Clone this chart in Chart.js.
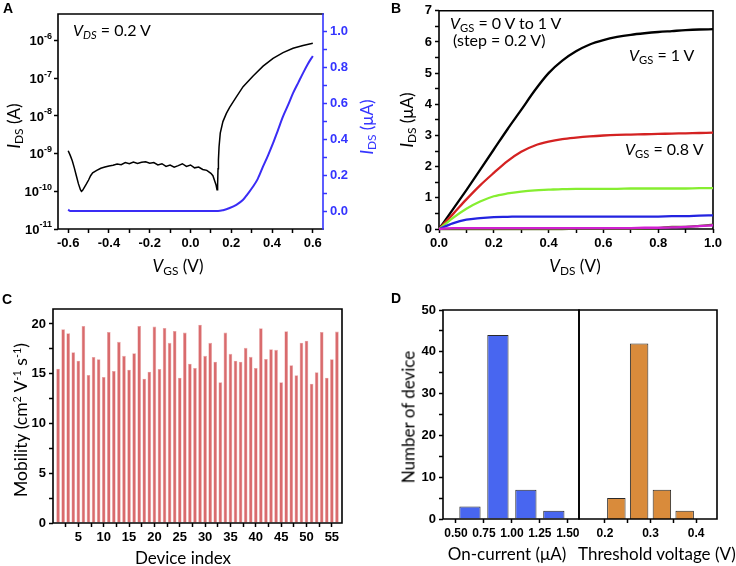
<!DOCTYPE html>
<html><head><meta charset="utf-8">
<script src="https://cdn.jsdelivr.net/npm/chart.js@4/dist/chart.umd.min.js"></script>
<style>
body{margin:0;background:#fff;width:736px;height:566px;position:relative;overflow:hidden;font-family:Lato,'Open Sans',sans-serif;color:#000;}
canvas{position:absolute;}
.t{position:absolute;white-space:nowrap;line-height:1;transform:translate(-50%,-50%);font-size:17px;}
.r{transform:translate(-50%,-50%) rotate(-90deg);}
.l{position:absolute;white-space:nowrap;line-height:1;transform:translateY(-50%);font-size:16px;}
.p{position:absolute;font:bold 14px 'Liberation Sans',Arial,sans-serif;transform:translate(-50%,-50%);}
sub{font-size:70%;vertical-align:-0.3em;line-height:0;}
sup{font-size:62%;vertical-align:0.6em;line-height:0;}
</style></head><body>
<canvas id="cA" width="368" height="283" style="left:0;top:0"></canvas>
<canvas id="cB" width="368" height="283" style="left:368px;top:0"></canvas>
<canvas id="cC" width="368" height="283" style="left:0;top:283px"></canvas>
<canvas id="cD1" width="240" height="283" style="left:368px;top:283px"></canvas>
<canvas id="cD2" width="188" height="283" style="left:548px;top:283px"></canvas>

<div class="p" style="left:8px;top:8px">A</div>
<div class="p" style="left:396px;top:8px">B</div>
<div class="p" style="left:7px;top:299px">C</div>
<div class="p" style="left:396px;top:298px">D</div>

<div class="t r" style="left:13px;top:126px"><i>I</i><sub>DS</sub> (A)</div>
<div class="t r" style="left:366px;top:127px;color:#3535ff"><i>I</i><sub>DS</sub> (μA)</div>
<div class="t" style="left:178px;top:265px"><i>V</i><sub>GS</sub> (V)</div>
<div class="l" style="left:73px;top:30px"><i>V<sub>DS</sub></i> = 0.2 V</div>

<div class="t r" style="left:406px;top:120px"><i>I</i><sub>DS</sub> (μA)</div>
<div class="t" style="left:575px;top:265px"><i>V</i><sub>DS</sub> (V)</div>
<div class="l" style="left:450px;top:23px"><i>V</i><sub>GS</sub> = 0 V to 1 V</div>
<div class="l" style="left:453px;top:40px">(step = 0.2 V)</div>
<div class="l" style="left:629px;top:55px"><i>V</i><sub>GS</sub> = 1 V</div>
<div class="l" style="left:625px;top:149px"><i>V</i><sub>GS</sub> = 0.8 V</div>

<div class="t r" style="left:21px;top:420px;font-size:17.5px">Mobility (cm<sup>2</sup> V<sup>-1</sup> s<sup>-1</sup>)</div>
<div class="t" style="left:183px;top:557px">Device index</div>

<div class="t r" style="left:408px;top:417px">Number of device</div>
<div class="t" style="left:507px;top:553px">On-current (μA)</div>
<div class="l" style="left:578px;top:553px;font-size:17px">Threshold voltage (V)</div>

<script>
// ---------- Panel A data ----------
const aBlackV = [-0.600,-0.590,-0.580,-0.570,-0.560,-0.550,-0.540,-0.535,-0.530,-0.520,-0.510,-0.500,-0.490,-0.480,-0.460,-0.440,-0.420,-0.400,-0.380,-0.360,-0.340,-0.320,-0.300,-0.280,-0.260,-0.240,-0.220,-0.200,-0.180,-0.160,-0.140,-0.120,-0.100,-0.080,-0.060,-0.040,-0.020,0.000,0.020,0.040,0.060,0.080,0.100,0.110,0.120,0.125,0.130,0.133,0.135,0.137,0.140,0.146,0.159,0.176,0.192,0.225,0.258,0.307,0.356,0.405,0.454,0.503,0.552,0.600];
const aBlackI = [1.2e-9,9.0e-10,6.5e-10,4.2e-10,2.6e-10,1.6e-10,1.1e-10,1.0e-10,1.05e-10,1.3e-10,1.6e-10,2.0e-10,2.6e-10,3.1e-10,3.6e-10,4.1e-10,4.4e-10,4.7e-10,4.9e-10,5.3e-10,5.1e-10,5.8e-10,5.4e-10,6.0e-10,5.5e-10,5.9e-10,6.1e-10,5.6e-10,5.8e-10,5.0e-10,5.4e-10,4.6e-10,5.0e-10,4.4e-10,4.8e-10,5.4e-10,4.6e-10,5.0e-10,4.2e-10,4.4e-10,3.8e-10,3.6e-10,3.0e-10,2.6e-10,1.8e-10,1.5e-10,1.1e-10,1.5e-10,4.0e-10,6.8e-10,1.5e-9,3.5e-9,7.1e-9,1.17e-8,1.7e-8,3.2e-8,6.0e-8,1.15e-7,2.1e-7,3.4e-7,4.8e-7,6.3e-7,7.4e-7,8.5e-7];
const aBlueV = [-0.600,-0.590,0.135,0.160,0.192,0.225,0.258,0.280,0.307,0.330,0.356,0.380,0.405,0.430,0.454,0.480,0.503,0.530,0.552,0.575,0.600];
const aBlueI = [0.008,0.0,0.0,0.005,0.017,0.035,0.063,0.095,0.137,0.180,0.249,0.310,0.379,0.455,0.528,0.595,0.658,0.720,0.770,0.820,0.866];
const aXTicks = [-0.6,-0.4,-0.2,0.0,0.2,0.4,0.6];
const aLogTicks = [1e-11,1e-10,1e-9,1e-8,1e-7,1e-6];
const aRightTicks = [0.0,0.2,0.4,0.6,0.8,1.0];

// ---------- Panel B data ----------
const bVds   = [0,0.05,0.10,0.15,0.20,0.25,0.30,0.35,0.40,0.45,0.50,0.55,0.60,0.65,0.70,0.75,0.80,0.85,0.90,0.95,1.00];
const bVgs10 = [0,0.62,1.25,1.90,2.55,3.20,3.82,4.45,5.00,5.40,5.70,5.92,6.06,6.16,6.23,6.28,6.32,6.35,6.38,6.40,6.41];
const bVgs08 = [0,0.47,0.95,1.40,1.80,2.18,2.48,2.68,2.80,2.88,2.93,2.97,3.00,3.02,3.03,3.04,3.05,3.06,3.07,3.08,3.09];
const bVgs06 = [0,0.35,0.65,0.88,1.05,1.14,1.20,1.24,1.26,1.28,1.29,1.29,1.29,1.29,1.30,1.30,1.30,1.30,1.30,1.31,1.31];
const bVgs04 = [0,0.18,0.30,0.35,0.38,0.39,0.40,0.40,0.40,0.40,0.40,0.40,0.40,0.40,0.40,0.40,0.40,0.41,0.41,0.43,0.44];
const bVgs02 = [0,0.03,0.03,0.03,0.03,0.03,0.03,0.03,0.03,0.03,0.03,0.03,0.03,0.03,0.03,0.04,0.04,0.05,0.07,0.09,0.12];
const bVgs00 = [0,0.00,0.00,0.00,0.00,0.00,0.00,0.00,0.00,0.00,0.01,0.01,0.01,0.01,0.01,0.02,0.03,0.07,0.07,0.10,0.14];
const bXTicks = [0.0,0.2,0.4,0.6,0.8,1.0];
const bYTicks = [0,1,2,3,4,5,6,7];

// ---------- Panel C data ----------
const cDevice = [1,2,3,4,5,6,7,8,9,10,11,12,13,14,15,16,17,18,19,20,21,22,23,24,25,26,27,28,29,30,31,32,33,34,35,36,37,38,39,40,41,42,43,44,45,46,47,48,49,50,51,52,53,54,55,56];
const cMobility = [15.5,19.46,19.06,17.15,16.3,19.8,14.87,16.68,16.45,14.67,19.2,15.28,18.2,16.8,15.4,17.05,19.8,14.5,15.2,19.73,15.48,19.6,18.1,19.3,14.6,19.13,16.0,15.58,19.93,16.8,18.1,16.2,14.13,19.13,17.0,16.3,16.2,17.6,16.7,15.58,19.56,16.48,17.45,17.4,14.13,19.26,15.85,14.84,18.12,18.32,14.0,15.14,19.2,14.6,16.45,19.23];
const cXTicks = [5,10,15,20,25,30,35,40,45,50,55];
const cYTicks = [0,5,10,15,20];

// ---------- Panel D data ----------
const dOnCurrent = [0.625,0.875,1.125,1.375];
const dOnCount   = [3,44,7,2];
const dVth       = [0.225,0.275,0.325,0.375];
const dVthCount  = [5,42,7,2];
const dOnTicks   = [0.50,0.75,1.00,1.25,1.50];
const dVthTicks  = [0.2,0.3,0.4];
const dYTicks    = [0,10,20,30,40,50];

// ---------- helpers ----------
const FAM = "'Liberation Sans', Arial, sans-serif";
const FONT = {family:FAM, weight:'bold', size:13};
function rng(a,b,s){const r=[];for(let i=0;a+i*s<=b+1e-9;i++)r.push(+(a+i*s).toFixed(6));return r;}
function setTicks(vals){return s=>{s.ticks=vals.map(v=>({value:v}));};}
function lab(major,fmt){return v=>major.some(m=>Math.abs(m-v)<1e-9)?fmt(v):'';}
function pts(xs,ys){return xs.map((x,i)=>({x:x,y:ys[i]}));}
function axis(o){
  const col=o.color||'#000';
  return Object.assign({
    type:'linear', offset:false,
    border:{display:false},
    grid:{display:true,drawOnChartArea:false,drawTicks:true,tickLength:4,tickWidth:1.5,tickColor:col,offset:false},
    ticks:{autoSkip:false,maxRotation:0,minRotation:0,padding:3,color:col,font:o.font||FONT,callback:o.cb},
    afterBuildTicks:setTicks(o.ticks),
    afterFit:s=>{ if(o.w!==undefined) s.width=o.w; if(o.h!==undefined) s.height=o.h; }
  }, o.extra||{});
}
function drawFrame(chart,opts){
  const c=chart.ctx,a=chart.chartArea;c.save();c.lineWidth=1.6;c.lineCap='square';
  c.strokeStyle='#000';c.beginPath();
  c.moveTo(a.right,a.bottom);c.lineTo(a.left,a.bottom);c.lineTo(a.left,a.top);c.lineTo(a.right,a.top);
  if(!opts.rightColor){c.lineTo(a.right,a.bottom);}
  c.stroke();
  if(opts.rightColor){c.strokeStyle=opts.rightColor;c.beginPath();c.moveTo(a.right,a.top);c.lineTo(a.right,a.bottom);c.stroke();}
  c.restore();
}
const framePlugin={id:'frame',
  beforeDatasetsDraw(chart,args,opts){ if(opts.under) drawFrame(chart,opts); },
  afterDraw(chart,args,opts){ if(!opts.under) drawFrame(chart,opts); }};
// power-of-ten labels "10" with a raised exponent, placed at the log scale's own tick pixels
const logLabelPlugin={id:'logLabels',afterDraw(chart){
  const s=chart.scales.y,c=chart.ctx;c.save();c.fillStyle='#000';c.textBaseline='middle';c.textAlign='left';
  s.ticks.forEach(t=>{
    const e=Math.round(Math.log10(t.value));if(Math.abs(Math.log10(t.value)-e)>1e-6)return;
    const y=s.getPixelForValue(t.value),es=String(e);
    c.font="bold 9px "+FAM;const we=c.measureText(es).width;
    c.font="bold 13px "+FAM;const wb=c.measureText('10').width;
    const xr=chart.chartArea.left-6;
    c.fillText('10',xr-we-wb,y+1);
    c.font="bold 9px "+FAM;c.fillText(es,xr-we,y-4);
  });c.restore();}};
const base={responsive:false,animation:false,devicePixelRatio:1,events:[],
  plugins:{legend:{display:false},tooltip:{enabled:false}}};

// ---------- Panel A ----------
new Chart(document.getElementById('cA'),{
  type:'line',
  data:{datasets:[
    {data:pts(aBlackV,aBlackI),yAxisID:'y',borderColor:'#000',borderWidth:1.5,pointRadius:0,tension:0},
    {data:pts(aBlueV,aBlueI),yAxisID:'y1',borderColor:'#3a2cf5',borderWidth:2,pointRadius:0,cubicInterpolationMode:'monotone'}
  ]},
  options:Object.assign({},base,{
    layout:{padding:{left:0,right:0,top:14,bottom:0}},
    plugins:Object.assign({},base.plugins,{frame:{rightColor:'#3535ff'}}),
    scales:{
      x:axis({ticks:rng(-0.6,0.6,0.1),cb:lab(aXTicks,v=>v.toFixed(1)),h:54,extra:{min:-0.65,max:0.65}}),
      y:axis({ticks:aLogTicks,cb:()=>'',w:58,extra:{type:'logarithmic',min:1e-11,max:5.1e-6,position:'left'}}),
      y1:axis({ticks:rng(-0.1,1.1,0.1).filter(v=>v>-0.05&&v<1.05),cb:lab(aRightTicks,v=>v.toFixed(1)),w:45,color:'#3535ff',extra:{min:-0.1,max:1.1,position:'right'}})
    }
  }),
  plugins:[framePlugin,logLabelPlugin]
});

// ---------- Panel B ----------
// Chart.js paints dataset 0 last (on top), so the 0.2 V trace comes first and the 0 V trace last
const bCol=[['#d020d0',bVgs02],['#2323e0',bVgs04],['#86ee30',bVgs06],['#d42222',bVgs08],['#000000',bVgs10],['#5a6e1e',bVgs00]];
new Chart(document.getElementById('cB'),{
  type:'line',
  data:{datasets:bCol.map(([c,v])=>({data:pts(bVds,v),borderColor:c,borderWidth:2.3,pointRadius:0,clip:3,cubicInterpolationMode:'monotone'}))},
  options:Object.assign({},base,{
    layout:{padding:{left:0,right:23,top:10,bottom:0}},
    plugins:Object.assign({},base.plugins,{frame:{under:true}}),
    scales:{
      x:axis({ticks:rng(0,1,0.1),cb:lab(bXTicks,v=>v.toFixed(1)),h:54,extra:{min:0,max:1}}),
      y:axis({ticks:rng(0,7,0.5),cb:lab(bYTicks,v=>String(v)),w:71,extra:{min:0,max:7}})
    }
  }),
  plugins:[framePlugin]
});

// ---------- Panel C ----------
new Chart(document.getElementById('cC'),{
  type:'bar',
  data:{datasets:[{data:pts(cDevice,cMobility),backgroundColor:'#d96b6d',borderColor:'#e9a3a4',borderWidth:0.6,barPercentage:0.72,categoryPercentage:1}]},
  options:Object.assign({},base,{
    layout:{padding:{left:0,right:26,top:26,bottom:0}},
    plugins:Object.assign({},base.plugins,{frame:{}}),
    scales:{
      x:axis({ticks:rng(2.5,55,2.5),cb:lab(cXTicks,v=>String(v)),h:43,extra:{min:0,max:57}}),
      y:axis({ticks:rng(0,20,2.5),cb:lab(cYTicks,v=>String(v)),w:53,extra:{min:0,max:21.5}})
    }
  }),
  plugins:[framePlugin]
});

// ---------- Panel D ----------
const FONT12={family:FAM,weight:'bold',size:12};
new Chart(document.getElementById('cD1'),{
  type:'bar',
  data:{datasets:[{data:pts(dOnCurrent,dOnCount),backgroundColor:'#4866f0',borderColor:'#2a2a2a',borderWidth:1,barPercentage:0.76,categoryPercentage:1}]},
  options:Object.assign({},base,{
    layout:{padding:{left:0,right:29,top:27,bottom:0}},
    plugins:Object.assign({},base.plugins,{frame:{}}),
    scales:{
      x:axis({ticks:dOnTicks,cb:lab(dOnTicks,v=>v.toFixed(2)),h:47,font:FONT12,extra:{min:0.384,max:1.6}}),
      y:axis({ticks:rng(0,50,5),cb:lab(dYTicks,v=>String(v)),w:75,extra:{min:0,max:50}})
    }
  }),
  plugins:[framePlugin]
});
new Chart(document.getElementById('cD2'),{
  type:'bar',
  data:{datasets:[{data:pts(dVth,dVthCount),backgroundColor:'#d98b3b',borderColor:'#2a2a2a',borderWidth:1,barPercentage:0.81,categoryPercentage:1}]},
  options:Object.assign({},base,{
    layout:{padding:{left:31,right:19,top:27,bottom:0}},
    plugins:Object.assign({},base.plugins,{frame:{}}),
    scales:{
      x:axis({ticks:[0.2,0.25,0.3,0.35,0.4],cb:lab(dVthTicks,v=>v.toFixed(1)),h:47,font:FONT12,extra:{min:0.143,max:0.446}}),
      y:{display:false,min:0,max:50}
    }
  }),
  plugins:[framePlugin]
});
</script>
</body></html>
